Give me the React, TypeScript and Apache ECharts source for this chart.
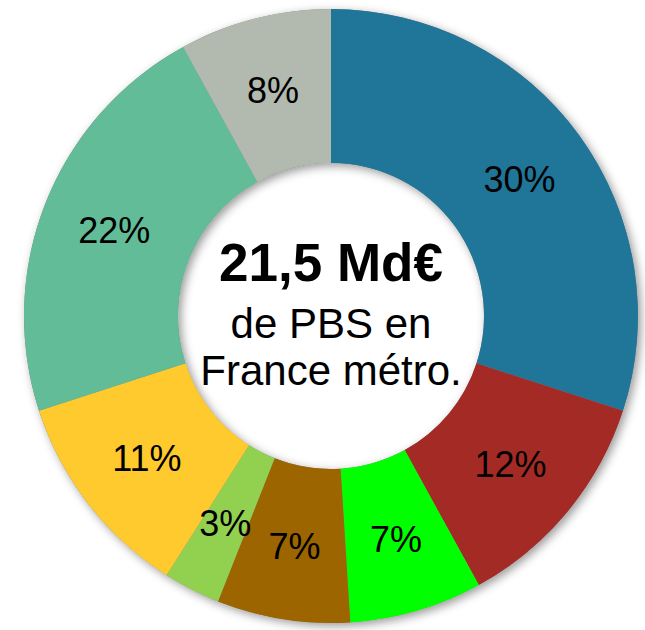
import React, { useEffect, useRef } from "react";
import * as echarts from "echarts";

const categories = ["A", "B", "C", "D", "E", "F", "G", "H"];
const values = [30, 12, 7, 7, 3, 11, 22, 8];
const colors = ["#1f7699", "#a42a25", "#00ff00", "#9c6500", "#92d050", "#ffca2e", "#62bc98", "#b2b9ae"];
const centerLines = ["21,5 Md€", "de PBS en", "France métro."];

export default function App() {
  const ref = useRef<HTMLDivElement>(null);
  useEffect(() => {
    if (!ref.current) return;
    const chart = echarts.init(ref.current, undefined, { renderer: "svg" });
    const font = "'Liberation Sans', Arial, Helvetica, sans-serif";
    chart.setOption({
      animation: false,
      backgroundColor: "#ffffff",
      series: [
        {
          type: "pie",
          silent: true,
          center: [331, 316],
          radius: [153, 307],
          startAngle: 90,
          label: { show: false },
          labelLine: { show: false },
          itemStyle: {
            color: "#888",
            shadowBlur: 10,
            shadowOffsetX: 3,
            shadowOffsetY: 3,
            shadowColor: "rgba(0,0,0,0.4)",
          },
          data: [{ value: 1, name: "bg" }],
          z: 1,
        },
        {
          type: "pie",
          center: [331, 316],
          radius: [153, 307],
          startAngle: 90,
          clockwise: true,
          z: 2,
          label: {
            show: true,
            position: "inside",
            formatter: "{c}%",
            color: "#000",
            fontSize: 36,
            fontFamily: font,
          },
          labelLine: { show: false },
          itemStyle: { borderWidth: 0 },
          data: categories.map((c, i) => ({
            name: c,
            value: values[i],
            itemStyle: { color: colors[i] },
          })),
        },
      ],
      graphic: [
        {
          type: "text",
          x: 331,
          y: 262,
          style: {
            text: centerLines[0],
            fontSize: 53,
            fontWeight: "bold",
            fontFamily: font,
            fill: "#000",
            align: "center",
            verticalAlign: "middle",
          },
          z: 10,
        },
        {
          type: "text",
          x: 331,
          y: 323,
          style: {
            text: centerLines[1],
            fontSize: 42,
            fontFamily: font,
            fill: "#000",
            align: "center",
            verticalAlign: "middle",
          },
          z: 10,
        },
        {
          type: "text",
          x: 331,
          y: 370,
          style: {
            text: centerLines[2],
            fontSize: 42,
            fontFamily: font,
            fill: "#000",
            align: "center",
            verticalAlign: "middle",
          },
          z: 10,
        },
      ],
    });
    return () => chart.dispose();
  }, []);
  return (
    <div
      ref={ref}
      style={{ position: "absolute", left: 0, top: 0, width: 645, height: 630 }}
    />
  );
}
